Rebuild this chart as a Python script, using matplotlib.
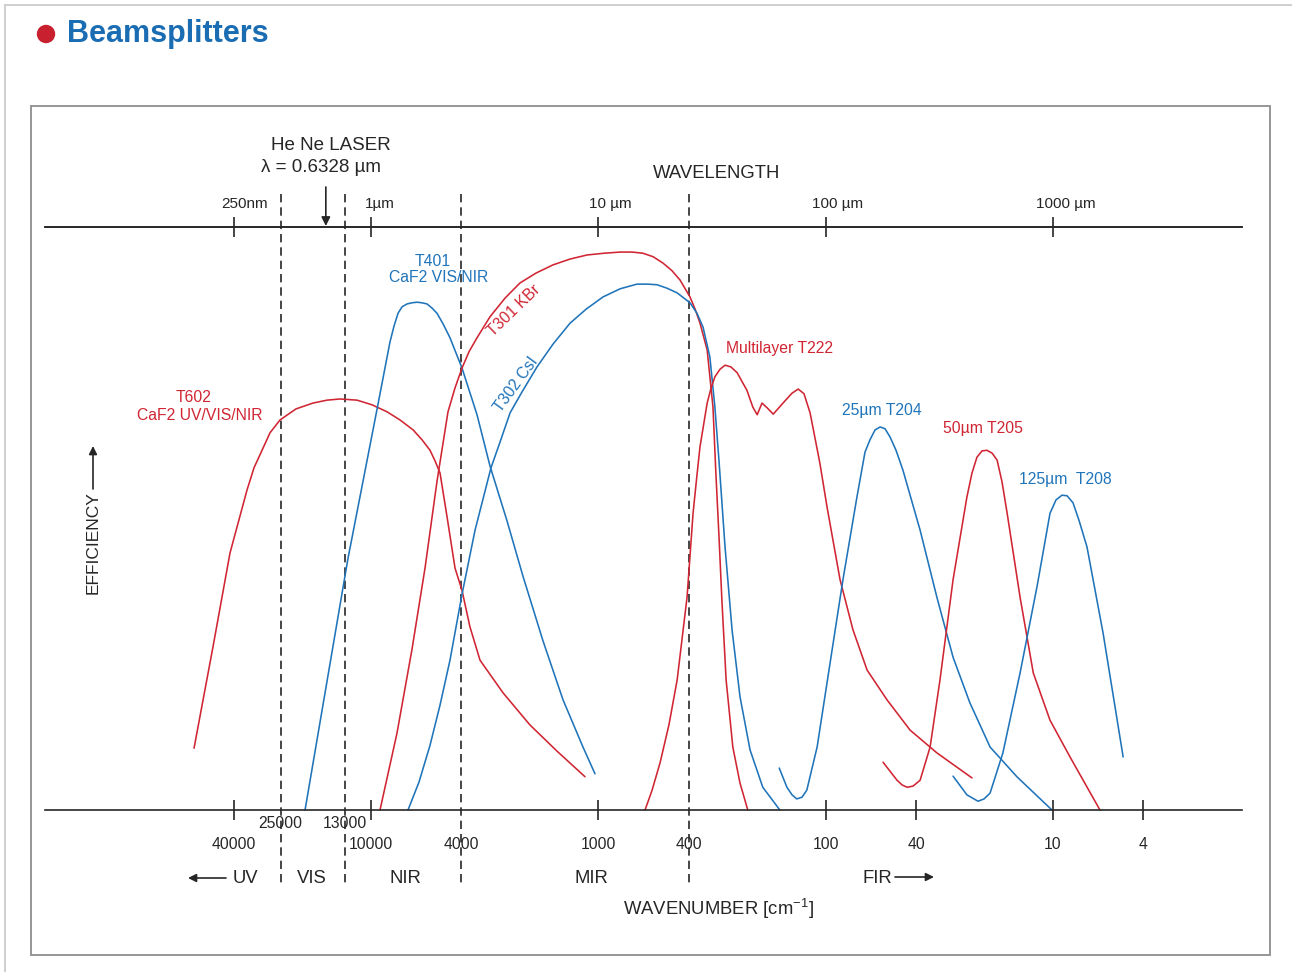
import matplotlib
matplotlib.use("Agg")
import matplotlib.pyplot as plt
import matplotlib.transforms as mtransforms
from matplotlib.patches import Rectangle, Ellipse, FancyArrowPatch
from matplotlib.lines import Line2D
from matplotlib.ticker import NullLocator

plt.rcParams['font.family'] = ['Liberation Sans', 'DejaVu Sans']
plt.rcParams['mathtext.fontset'] = 'custom'
plt.rcParams['mathtext.rm'] = 'Liberation Sans'
plt.rcParams['mathtext.it'] = 'Liberation Sans:italic'

# ---------------------------------------------------------------- data
# beamsplitter efficiency curves: wavenumber [cm^-1] vs relative efficiency [%]
t602_wn = [60060, 49560, 41710, 35110, 32710, 30160, 27820, 25140, 21380, 18000, 15620,
           13690, 11520, 9899, 8500, 7454, 6530, 5965, 5500, 5230, 4970, 4630, 4270,
           3980, 3670, 3315, 2626, 2000, 1520, 1144]
t602_eff = [10.6, 28.0, 44.1, 54.9, 58.7, 61.7, 64.7, 66.9, 68.8, 69.8, 70.3,
            70.5, 70.3, 69.5, 68.3, 66.9, 65.2, 63.5, 61.7, 59.9, 57.8, 50.3, 41.5,
            37.7, 31.4, 25.7, 20.1, 14.6, 10.1, 5.7]

t401_wn = [19510, 12620, 9316, 8250, 7922, 7607, 7305, 6944, 6600, 6275, 5965, 5670,
           5391, 5124, 4822, 4493, 3978, 3417, 2996, 2522, 2145, 1751, 1430, 1168, 1034]
t401_eff = [0, 43.2, 69.6, 80.3, 83.0, 85.2, 86.3, 86.8, 87.0, 87.1, 87.0, 86.8,
            86.1, 85.2, 83.4, 81.0, 75.8, 67.8, 59.0, 49.6, 40.1, 29.0, 18.9, 10.8, 6.2]

t301_wn = [9129, 7685, 6600, 5786, 5124, 4585, 4270, 3978, 3706, 3417,
           2996, 2573, 2211, 1879, 1583, 1332, 1121, 944, 802, 711,
           636, 574, 519, 474, 437, 395, 375, 357, 332, 313,
           304, 294, 286, 274, 256, 238, 220]
t301_eff = [0, 13.2, 27.6, 41.5, 56.4, 68.3, 72.4, 75.8, 78.6, 81.0,
            84.6, 87.8, 90.4, 92.1, 93.5, 94.5, 95.2, 95.5, 95.7, 95.7,
            95.5, 94.9, 93.8, 92.5, 90.9, 88.0, 85.9, 83.5, 78.9, 69.1,
            57.8, 46.3, 36.0, 22.3, 10.8, 4.6, 0]

t302_wn = [6874, 6149, 5500, 4970, 4493, 3978, 3486, 2966, 2707, 2446,
           2167, 1861, 1583, 1332, 1132, 954, 802, 676, 610, 552,
           498.5, 450, 395, 368, 346, 323, 307, 294, 277, 258,
           238, 215, 189, 159]
t302_eff = [0, 4.8, 11.1, 18.0, 25.7, 37.0, 48.0, 58.7, 63.1, 68.1,
            71.7, 76.0, 79.9, 83.5, 85.9, 88.0, 89.4, 90.2, 90.2, 90.1,
            89.5, 88.7, 87.0, 85.2, 82.8, 77.7, 69.1, 59.5, 45.1, 30.9,
            19.4, 10.3, 3.9, 0]

t222_wn = [623, 580, 535, 489, 450, 407, 383, 368, 357, 332,
           319, 307, 291.5, 277, 261, 245, 222, 209, 200, 190.5,
           181, 170, 154, 140.5, 132, 124.5, 117, 106, 98.6, 86.4,
           75.8, 65.7, 53.7, 42.5, 32.4, 22.7]
t222_eff = [0, 3.4, 8.1, 14.6, 22.3, 36.5, 50.9, 57.5, 62.3, 69.8,
            72.4, 74.3, 75.6, 76.3, 76.0, 75.0, 72.0, 69.1, 67.8, 69.8,
            69.0, 67.9, 69.8, 71.5, 72.2, 71.4, 68.1, 59.5, 52.0, 39.5,
            30.9, 24.0, 18.9, 13.7, 9.8, 5.5]

t204_wn = [160, 148, 140.5, 134, 127, 121, 109, 95.6, 83.9, 72.8,
           67.1, 63.8, 60.6, 57.6, 54.8, 52.1, 49.0, 45.7, 38.4, 32.4,
           27.5, 23.2, 18.9, 14.4, 10.1]
t204_eff = [7.2, 3.9, 2.6, 1.9, 2.2, 3.4, 10.8, 25.2, 39.5, 53.7,
            61.4, 63.5, 65.2, 65.7, 65.4, 64.0, 61.7, 58.3, 48.0, 36.5,
            26.2, 18.4, 10.8, 5.7, 0]

t205_wn = [55.9, 48.5, 46.1, 43.8, 41.25, 38.4, 34.7, 31.4, 27.5, 23.9,
           22.7, 21.6, 20.5, 19.5, 18.5, 17.6, 16.75, 15.9, 13.95, 12.2,
           10.3, 8.41, 6.21]
t205_eff = [8.2, 5.1, 4.3, 3.9, 4.1, 5.1, 10.8, 22.3, 39.5, 53.7,
            57.8, 60.5, 61.6, 61.7, 61.2, 60.0, 56.3, 50.9, 36.5, 23.5,
            15.4, 9.1, 0]

t208_wn = [27.5, 23.9, 22.7, 21.35, 20.1, 18.9, 16.6, 13.95, 11.75, 10.3,
           9.69, 9.12, 8.67, 8.16, 7.68, 7.08, 6.02, 4.91]
t208_eff = [5.8, 2.6, 2.1, 1.5, 1.9, 2.9, 9.8, 23.5, 38.3, 50.9,
            53.2, 54.0, 53.9, 52.7, 49.7, 45.1, 30.4, 9.1]

# axis ticks
wavenumber_ticks = [40000, 10000, 1000, 100, 40, 10, 4]
wavenumber_labels = ["40000", "25000", "13000", "10000", "4000", "1000", "400", "100", "40", "10", "4"]
wavenumber_label_values = [40000, 25000, 13000, 10000, 4000, 1000, 400, 100, 40, 10, 4]
wavelength_ticks_um = [0.25, 1, 10, 100, 1000]
wavelength_labels = ["250nm", "1µm", "10 µm", "100 µm", "1000 µm"]
region_bounds = [25000, 13000, 4000, 400]
hene_wavelength_um = 0.6328

# ---------------------------------------------------------------- figure
W, H = 1292, 972
fig = plt.figure(figsize=(W / 100, H / 100), dpi=100)
fig.patch.set_facecolor('white')

RED = '#d02532'
BLUE = '#1f74ba'
INK = '#262626'


def fx(px):
    return px / W


def fy(py):
    return 1 - py / H


# page rules and frame
fig.add_artist(Line2D([fx(5), 1], [fy(5), fy(5)], color='#cfcfcf', lw=1.4))
fig.add_artist(Line2D([fx(5), fx(5)], [0, fy(5)], color='#cfcfcf', lw=1.4))
fig.add_artist(Rectangle((fx(31), fy(955)), fx(1270) - fx(31), fy(106) - fy(955),
                         fill=False, ec='#8e8e8e', lw=1.3, transform=fig.transFigure))

# heading
fig.add_artist(Ellipse((fx(46), fy(34)), 17 / W, 17 / H, color='#c8202f',
                       transform=fig.transFigure))
fig.text(fx(67), fy(34), 'Beamsplitters', fontsize=22, fontweight='bold',
         color='#1a6db3', ha='left', va='center')

# plotting area between the two horizontal scales
ax = fig.add_axes([fx(45), fy(810), fx(1242) - fx(45), fy(227) - fy(810)])
ax.set_xscale('log')
ax.set_xlim(271800, 1.473)
ax.set_ylim(0, 100)
ax.set_facecolor('none')
for side in ('left', 'right'):
    ax.spines[side].set_visible(False)
for side in ('top', 'bottom'):
    ax.spines[side].set_linewidth(1.2)
    ax.spines[side].set_color(INK)
ax.set_yticks([])
ax.set_xticks(wavenumber_ticks)
ax.xaxis.set_minor_locator(NullLocator())
ax.tick_params(axis='x', which='major', direction='inout', length=14.4, width=1.2,
               color=INK, bottom=True, top=False, labelbottom=False)

sec = ax.secondary_xaxis('top', functions=(lambda w: 1e4 / w, lambda l: 1e4 / l))
sec.set_xticks(wavelength_ticks_um)
sec.xaxis.set_minor_locator(NullLocator())
sec.tick_params(axis='x', which='major', direction='inout', length=14.4, width=1.2,
                color=INK, labeltop=False)
sec.spines['top'].set_linewidth(1.2)
sec.spines['top'].set_color(INK)

xtr = ax.get_xaxis_transform()


def ay(py):
    return (810 - py) / 583


# region boundaries
for wn in region_bounds:
    ax.plot([wn, wn], [ay(194), ay(884)], transform=xtr, clip_on=False,
            color=INK, lw=1.2, ls=(0, (5.0, 3.0)))

# curves
curves = [
    (t602_wn, t602_eff, RED), (t401_wn, t401_eff, BLUE),
    (t301_wn, t301_eff, RED), (t302_wn, t302_eff, BLUE),
    (t222_wn, t222_eff, RED), (t204_wn, t204_eff, BLUE),
    (t205_wn, t205_eff, RED), (t208_wn, t208_eff, BLUE),
]
for wn, eff, col in curves:
    ax.plot(wn, eff, color=col, lw=1.15, solid_joinstyle='round',
            solid_capstyle='round', clip_on=False)

# wavenumber labels
for val, lab in zip(wavenumber_label_values, wavenumber_labels):
    row = 823 if lab in ("25000", "13000") else 844
    ax.text(val, ay(row), lab, transform=xtr, ha='center', va='center',
            fontsize=11.3, color=INK)

# wavelength labels
top_offsets_px = [10, 9, 12, 12, 13]
for lam, lab, dx in zip(wavelength_ticks_um, wavelength_labels, top_offsets_px):
    tr = mtransforms.offset_copy(xtr, fig=fig, x=dx * 0.72, units='points')
    ax.text(1e4 / lam, ay(204), lab, transform=tr, ha='center', va='center',
            fontsize=11, color=INK)

# HeNe laser marker
hene_wn = 1e4 / hene_wavelength_um
ax.annotate('', xy=(hene_wn, ay(226)), xytext=(hene_wn, ay(187)), xycoords=xtr,
            textcoords=xtr,
            arrowprops=dict(arrowstyle='-|>', color=INK, lw=1.2, mutation_scale=13,
                            shrinkA=0, shrinkB=0))
fig.text(fx(331), fy(145), 'He Ne LASER', fontsize=13.5, ha='center', va='center', color=INK)
fig.text(fx(321), fy(168), 'λ = 0.6328 µm', fontsize=13.5, ha='center', va='center', color=INK)

fig.text(fx(717), fy(174), 'WAVELENGTH', fontsize=13.3, ha='center', va='center', color=INK)
fig.text(fx(718), fy(909), r'WAVENUMBER [cm$^{\mathregular{-1}}$]', fontsize=13.3,
         ha='center', va='center', color=INK)

# spectral regions
for lab, px in [('UV', 245), ('VIS', 312), ('NIR', 405), ('MIR', 591), ('FIR', 877)]:
    fig.text(fx(px), fy(878), lab, fontsize=13.3, ha='center', va='center', color=INK)
arrow_kw = dict(arrowstyle='-|>', color=INK, lw=1.2, mutation_scale=12, shrinkA=0, shrinkB=0)
fig.add_artist(FancyArrowPatch((fx(226), fy(878)), (fx(188), fy(878)),
                               transform=fig.transFigure, **arrow_kw))
fig.add_artist(FancyArrowPatch((fx(895), fy(877)), (fx(934), fy(877)),
                               transform=fig.transFigure, **arrow_kw))

# efficiency label
fig.text(fx(93), fy(543), 'EFFICIENCY', fontsize=12.5, rotation=90, ha='center',
         va='center', color=INK)
fig.add_artist(FancyArrowPatch((fx(93), fy(489)), (fx(93), fy(446)),
                               transform=fig.transFigure, **arrow_kw))

# curve labels
lab_kw = dict(fontsize=11.3, ha='center', va='center')
fig.text(fx(194), fy(398), 'T602', color=RED, **lab_kw)
fig.text(fx(200), fy(415), 'CaF2 UV/VIS/NIR', color=RED, **lab_kw)
fig.text(fx(433), fy(261), 'T401', color=BLUE, **lab_kw)
fig.text(fx(439), fy(278), 'CaF2 VIS/NIR', color=BLUE, **lab_kw)
fig.text(fx(514), fy(311), 'T301 KBr', color=RED, rotation=44, rotation_mode='anchor', **lab_kw)
fig.text(fx(516), fy(385), 'T302 CsI', color=BLUE, rotation=54, rotation_mode='anchor', **lab_kw)
fig.text(fx(779), fy(349), 'Multilayer T222', color=RED, **lab_kw)
fig.text(fx(882), fy(410), '25µm T204', color=BLUE, **lab_kw)
fig.text(fx(983), fy(429), '50µm T205', color=RED, **lab_kw)
fig.text(fx(1065), fy(479), '125µm  T208', color=BLUE, **lab_kw)

fig.savefig('out.png', dpi=100, facecolor='white')
